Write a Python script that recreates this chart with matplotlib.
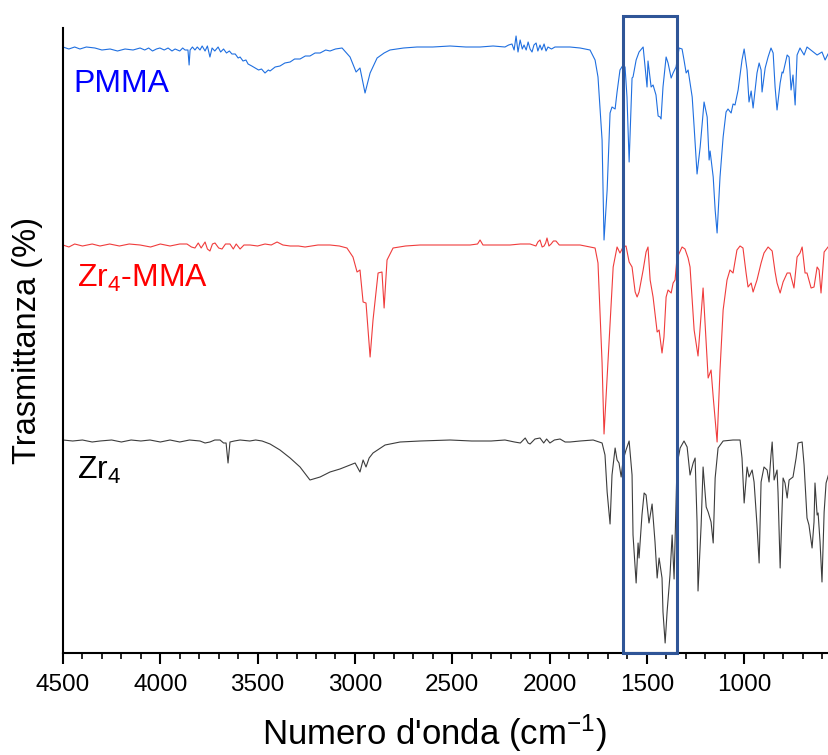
import numpy as np
import matplotlib
matplotlib.use("Agg")
import matplotlib.pyplot as plt
from matplotlib.patches import Rectangle
from matplotlib.ticker import MultipleLocator

plt.rcParams['font.family'] = ['Liberation Sans', 'DejaVu Sans']
plt.rcParams['mathtext.fontset'] = 'custom'
plt.rcParams['mathtext.rm'] = 'Liberation Sans'
plt.rcParams['mathtext.it'] = 'Liberation Sans:italic'

# spectra: (wavenumber cm-1, transmittance a.u.)
pmma = [(4500, 103), (4470, 102), (4440, 103), (4413, 102), (4380, 103), (4336, 102.5),
        (4300, 101.5), (4258, 102), (4220, 101), (4181, 102), (4140, 101.5), (4104, 102.5),
        (4080, 101.5), (4060, 102.5), (4040, 101), (4020, 102), (4002, 102.5), (3980, 101.5),
        (3960, 102.5), (3940, 101), (3924, 102), (3900, 101), (3885, 102.5), (3873, 101.5),
        (3858, 101.5), (3852, 94), (3847, 101.5), (3835, 103), (3822, 101.5), (3810, 103),
        (3796, 101.5), (3785, 103.5), (3770, 101), (3758, 103.5), (3745, 98), (3734, 102.5),
        (3720, 101), (3703, 103), (3690, 100.5), (3675, 102), (3660, 100), (3645, 101),
        (3632, 99.5), (3615, 99.5), (3600, 97.5), (3590, 98), (3575, 96), (3560, 96.5),
        (3549, 94.5), (3530, 93.5), (3513, 92.5), (3495, 91.5), (3480, 92), (3462, 90),
        (3445, 91.5), (3436, 91), (3410, 93), (3385, 93.5), (3360, 95), (3333, 95.5),
        (3310, 97), (3282, 97), (3255, 98.5), (3231, 98.5), (3205, 100), (3179, 100),
        (3150, 101.5), (3128, 101), (3100, 102), (3066, 102.5), (3025, 98), (2994, 90.5),
        (2974, 92.5), (2948, 80), (2922, 90), (2886, 97.5), (2850, 100), (2820, 101.5),
        (2750, 102.5), (2681, 103), (2600, 103), (2511, 103.5), (2430, 103), (2357, 103),
        (2290, 103.5), (2229, 103), (2210, 104), (2193, 104.5), (2182, 101.5), (2172, 108.5),
        (2162, 100.5), (2151, 106.5), (2140, 102), (2131, 104), (2120, 101.5), (2110, 105.5),
        (2100, 102), (2090, 100.5), (2080, 104), (2069, 105), (2060, 101), (2049, 104),
        (2040, 101.5), (2028, 104.5), (2018, 101), (2008, 103), (1990, 102), (1972, 103),
        (1895, 103), (1843, 102.5), (1792, 101.5), (1766, 96.5), (1751, 88), (1730, 56.5),
        (1720, 6.5), (1704, 31.5), (1689, 70), (1679, 73), (1663, 72), (1653, 80.5),
        (1638, 91.5), (1622, 94), (1612, 93), (1602, 78), (1591, 45.5), (1576, 87.5),
        (1571, 88), (1555, 96.5), (1540, 100.5), (1519, 103), (1514, 98), (1499, 83),
        (1494, 96), (1478, 83), (1468, 84), (1453, 79), (1442, 68.5), (1432, 68),
        (1427, 67), (1417, 83), (1401, 98), (1391, 95), (1375, 87.5), (1365, 90),
        (1350, 93), (1334, 102.5), (1319, 102), (1309, 96.5), (1298, 90), (1288, 91.5),
        (1267, 78), (1257, 63), (1242, 39.5), (1226, 53), (1206, 75.5), (1190, 68),
        (1180, 46.5), (1175, 51), (1159, 38), (1149, 21.5), (1139, 10), (1124, 38),
        (1108, 58), (1093, 70.5), (1083, 72), (1067, 70), (1057, 74.5), (1047, 74),
        (1031, 81.5), (1011, 96.5), (1000, 102), (985, 91.5), (975, 75.5), (964, 81),
        (954, 72.5), (934, 90), (923, 95), (913, 91.5), (908, 80.5), (892, 92.5),
        (877, 98), (862, 102.5), (851, 100), (841, 83), (831, 71.5), (815, 85),
        (805, 90.5), (800, 90), (779, 99), (769, 98), (759, 81.5), (749, 89),
        (738, 74), (728, 99), (713, 102.5), (692, 99), (677, 103), (651, 101),
        (625, 99), (600, 100.5), (584, 96.5), (569, 99.5)]

zr4_mma = [(4500, 104), (4470, 103), (4440, 104.5), (4400, 103.5), (4350, 104.5), (4310, 103.5),
           (4260, 104.5), (4210, 103.5), (4160, 104.5), (4104, 104), (4050, 103), (4000, 104.5),
           (3950, 103.5), (3900, 104.5), (3863, 104.5), (3840, 103), (3822, 102.5), (3805, 105),
           (3790, 102.5), (3770, 105.5), (3758, 102), (3745, 101), (3732, 104.5), (3719, 105),
           (3700, 102.5), (3683, 102), (3665, 104.5), (3642, 104.5), (3625, 102), (3610, 104.5),
           (3590, 102), (3570, 104), (3539, 104), (3500, 103.5), (3462, 104.5), (3430, 104),
           (3400, 105.5), (3370, 104), (3333, 103.5), (3290, 103.5), (3256, 103), (3190, 104),
           (3128, 104), (3080, 103.5), (3041, 102.5), (3010, 98), (2989, 90.5), (2974, 91.5),
           (2958, 75.5), (2943, 75), (2922, 48), (2907, 66.5), (2881, 90), (2861, 90.5),
           (2850, 72.5), (2835, 96.5), (2804, 102.5), (2740, 103.5), (2665, 104), (2540, 104),
           (2408, 104), (2370, 104.5), (2357, 106.5), (2342, 104), (2280, 104), (2203, 104),
           (2150, 104.5), (2100, 104.5), (2070, 103.5), (2060, 105.5), (2049, 106.5), (2038, 103),
           (2028, 103.5), (2020, 105), (2013, 107.5), (2003, 103.5), (1992, 104.5), (1980, 106),
           (1967, 106), (1950, 104), (1920, 104), (1843, 104), (1766, 102.5), (1751, 95),
           (1730, 45), (1720, 9.5), (1704, 38), (1689, 65), (1673, 93), (1653, 103),
           (1638, 100), (1622, 103), (1607, 103.5), (1591, 95.5), (1576, 93), (1560, 80.5),
           (1550, 78), (1540, 80.5), (1519, 91.5), (1504, 100.5), (1494, 103), (1483, 86.5),
           (1468, 78), (1447, 60.5), (1437, 61.5), (1422, 50), (1412, 58), (1401, 78),
           (1391, 81.5), (1375, 80), (1365, 85), (1355, 86.5), (1345, 97.5), (1319, 103),
           (1304, 102), (1288, 97.5), (1278, 93), (1257, 61.5), (1237, 48.5), (1211, 82.5),
           (1185, 37.5), (1170, 41.5), (1159, 28), (1139, 5.5), (1124, 41.5), (1108, 71.5),
           (1088, 86.5), (1073, 91.5), (1057, 90), (1037, 101.5), (1021, 103.5), (1006, 102.5),
           (990, 90), (980, 83), (964, 85), (954, 80.5), (934, 86.5), (913, 95), (898, 100),
           (877, 103), (856, 101), (841, 90.5), (831, 85), (815, 80), (800, 85.5), (779, 90),
           (764, 90), (744, 82.5), (728, 98), (713, 100), (702, 103), (687, 90), (677, 90),
           (656, 82.5), (641, 83), (625, 93), (615, 91.5), (605, 80), (589, 100.5), (569, 103)]

zr4 = [(4500, 106.5), (4450, 106), (4400, 106.5), (4350, 105.5), (4310, 106), (4250, 106.5),
       (4200, 105.5), (4150, 106.5), (4100, 106), (4053, 106.5), (4000, 105.5), (3950, 106.5),
       (3900, 105.5), (3850, 106.5), (3796, 106), (3770, 105), (3745, 105.5), (3720, 106.5),
       (3693, 106.5), (3675, 105), (3662, 105), (3652, 95), (3642, 105.5), (3620, 106),
       (3590, 106.5), (3540, 106), (3510, 106.5), (3477, 106), (3436, 104.5), (3385, 101.5),
       (3333, 97.5), (3282, 93), (3231, 86.5), (3179, 88), (3128, 90.5), (3077, 92),
       (3025, 94), (2999, 95), (2974, 90.5), (2958, 96.5), (2943, 93), (2927, 97.5),
       (2907, 100), (2845, 104), (2768, 105.5), (2665, 106), (2511, 106.5), (2400, 106),
       (2300, 106), (2229, 106.5), (2180, 105.5), (2150, 105), (2125, 107.5), (2110, 105),
       (2100, 104.5), (2075, 107), (2049, 107.5), (2030, 105), (2015, 107), (1998, 105),
       (1975, 106.5), (1946, 107), (1920, 105.5), (1895, 105.5), (1843, 106), (1776, 106.5),
       (1730, 105), (1715, 99), (1704, 80.5), (1689, 64.5), (1679, 89), (1663, 102.5),
       (1653, 96.5), (1643, 95), (1632, 88), (1622, 96.5), (1607, 101.5), (1591, 106),
       (1576, 89), (1571, 59), (1555, 35), (1545, 55), (1540, 47.5), (1525, 69),
       (1514, 80), (1504, 79), (1489, 65), (1473, 74.5), (1458, 55.5), (1447, 37.5),
       (1437, 47.5), (1422, 37.5), (1417, 20.5), (1406, 5), (1396, 20.5), (1381, 39),
       (1370, 59), (1360, 37), (1345, 94), (1329, 102.5), (1309, 106), (1293, 103),
       (1278, 89), (1262, 95), (1252, 97.5), (1242, 65.5), (1237, 31), (1221, 64),
       (1211, 93), (1195, 73), (1185, 70.5), (1170, 65.5), (1159, 55), (1149, 87.5),
       (1134, 102.5), (1108, 106), (1057, 106.5), (1021, 106.5), (1011, 97.5), (1000, 75),
       (985, 93), (975, 88), (959, 91.5), (949, 85.5), (934, 64), (923, 45), (913, 85.5),
       (898, 93), (882, 91.5), (872, 85.5), (862, 99), (856, 105.5), (846, 86.5),
       (831, 91.5), (826, 80.5), (815, 42.5), (800, 87.5), (790, 85), (779, 77.5),
       (769, 86.5), (749, 88), (733, 97.5), (723, 105), (702, 105.5), (692, 94),
       (677, 67.5), (667, 64), (651, 52.5), (641, 65.5), (636, 85), (625, 69), (620, 70),
       (610, 55.5), (600, 35.5), (589, 70.5), (579, 85), (564, 90)]

offsets = [200, 100, 0]
names = ['PMMA', r'Zr$_4$-MMA', r'Zr$_4$']
line_colors = ['#1f6fe0', '#f03c3c', '#3c3c3c']
text_colors = ['#0000ff', '#ff0000', '#000000']
box_range = (1620, 1345)

fig = plt.figure(figsize=(8.29, 7.55), dpi=100)
ax = fig.add_axes([63 / 829, 102 / 755, 766 / 829, 625 / 755])

for spec, off, c in zip([pmma, zr4_mma, zr4], offsets, line_colors):
    wn, t = np.array(spec).T
    ax.plot(wn, t + off, color=c, lw=0.8)

ax.add_patch(Rectangle((box_range[0], 0), box_range[1] - box_range[0], 318.5,
                       fill=False, ec='#2f5597', lw=2.2, clip_on=False, zorder=5))

ax.set_xlim(4500, 564)
ax.set_ylim(0, 312.5)
ax.xaxis.set_major_locator(MultipleLocator(500))
ax.xaxis.set_minor_locator(MultipleLocator(100))
ax.set_yticks([])
for s in ['top', 'right']:
    ax.spines[s].set_visible(False)
for s in ['left', 'bottom']:
    ax.spines[s].set_linewidth(1.5)
ax.tick_params(axis='x', which='major', direction='out', length=8, width=1.5,
               labelsize=17.5, pad=7)
ax.tick_params(axis='x', which='minor', direction='out', length=4.5, width=1.2)

fig.text(434 / 829, 1 - 733 / 755, "Numero d'onda (cm$^{-1}$)", fontsize=25,
         ha='center', va='center')
fig.text(28 / 829, 1 - 341 / 755, 'Trasmittanza (%)', fontsize=23.5,
         rotation=90, ha='center', va='center')

label_pos = [(73, 84), (77, 278), (77, 470)]
for name, (px, py), c in zip(names, label_pos, text_colors):
    fig.text(px / 829, 1 - py / 755, name, fontsize=23, color=c, ha='left', va='center')

fig.savefig('out.png', dpi=100)
